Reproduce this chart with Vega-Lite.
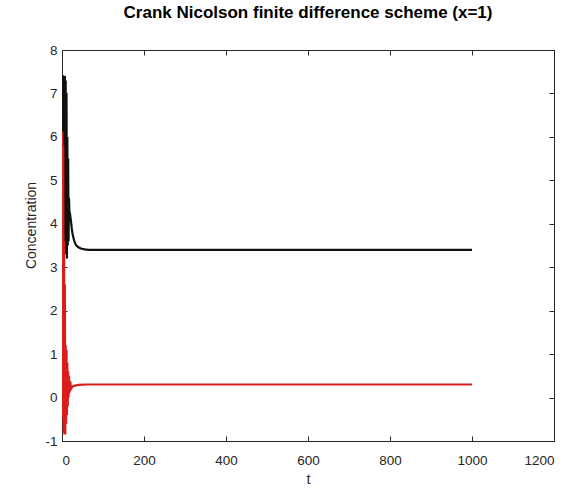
{
  "$schema": "https://vega.github.io/schema/vega-lite/v6.json",
  "autosize": "none",
  "padding": {"left": 62, "top": 50, "right": 31, "bottom": 50},
  "width": 492,
  "height": 391,
  "background": "white",
  "title": {"text": "Crank Nicolson finite difference scheme (x=1)", "font": "Liberation Sans", "fontSize": 17, "fontWeight": "bold", "color": "#000000", "offset": 8, "baseline": "alphabetic", "anchor": "middle"},
  "config": {
    "view": {"stroke": "#262626", "strokeWidth": 1},
    "axis": {"grid": false, "domainColor": "#262626", "tickColor": "#262626", "labelColor": "#262626", "labelFont": "Liberation Sans", "labelFontSize": 13.5, "titleFont": "Liberation Sans", "titleFontSize": 14.5, "titleFontWeight": "normal", "titleColor": "#262626", "tickSize": -5}
  },
  "data": {"values": [
    {"t": 0, "c": 0.5, "s": "a"}, {"t": 1, "c": 7.42, "s": "a"}, {"t": 2, "c": 3.3, "s": "a"}, {"t": 3, "c": 7.42, "s": "a"}, {"t": 4, "c": 3.3, "s": "a"}, {"t": 5, "c": 7.4, "s": "a"}, {"t": 6, "c": 3.3, "s": "a"}, {"t": 7, "c": 7.4, "s": "a"}, {"t": 8, "c": 3.4, "s": "a"}, {"t": 9, "c": 7.3, "s": "a"}, {"t": 10, "c": 3.3, "s": "a"}, {"t": 11, "c": 7.0, "s": "a"}, {"t": 12, "c": 3.2, "s": "a"}, {"t": 13, "c": 6.0, "s": "a"}, {"t": 14, "c": 3.5, "s": "a"}, {"t": 15, "c": 5.5, "s": "a"}, {"t": 16, "c": 3.6, "s": "a"}, {"t": 17, "c": 4.6, "s": "a"}, {"t": 18, "c": 4.3, "s": "a"}, {"t": 20, "c": 4.2, "s": "a"}, {"t": 22, "c": 4.05, "s": "a"}, {"t": 24, "c": 3.88, "s": "a"}, {"t": 26, "c": 3.75, "s": "a"}, {"t": 30, "c": 3.6, "s": "a"}, {"t": 34, "c": 3.51, "s": "a"}, {"t": 40, "c": 3.46, "s": "a"}, {"t": 46, "c": 3.43, "s": "a"}, {"t": 55, "c": 3.41, "s": "a"}, {"t": 66, "c": 3.4, "s": "a"}, {"t": 100, "c": 3.4, "s": "a"}, {"t": 1000, "c": 3.4, "s": "a"},
    {"t": 0, "c": 6.1, "s": "b"}, {"t": 1, "c": 6.1, "s": "b"}, {"t": 2, "c": -0.5, "s": "b"}, {"t": 3, "c": 5.8, "s": "b"}, {"t": 4, "c": -0.8, "s": "b"}, {"t": 5, "c": 3.6, "s": "b"}, {"t": 6, "c": -0.85, "s": "b"}, {"t": 7, "c": 2.6, "s": "b"}, {"t": 8, "c": -0.85, "s": "b"}, {"t": 9, "c": 1.2, "s": "b"}, {"t": 10, "c": -0.6, "s": "b"}, {"t": 11, "c": 1.1, "s": "b"}, {"t": 12, "c": -0.4, "s": "b"}, {"t": 13, "c": 0.8, "s": "b"}, {"t": 14, "c": -0.2, "s": "b"}, {"t": 15, "c": 0.6, "s": "b"}, {"t": 16, "c": 0.0, "s": "b"}, {"t": 17, "c": 0.5, "s": "b"}, {"t": 18, "c": 0.1, "s": "b"}, {"t": 20, "c": 0.38, "s": "b"}, {"t": 22, "c": 0.2, "s": "b"}, {"t": 25, "c": 0.25, "s": "b"}, {"t": 30, "c": 0.27, "s": "b"}, {"t": 40, "c": 0.29, "s": "b"}, {"t": 60, "c": 0.3, "s": "b"}, {"t": 1000, "c": 0.3, "s": "b"}
  ]},
  "layer": [
    {
      "mark": {"type": "line", "strokeWidth": 2.2, "clip": true},
      "encoding": {
        "x": {"field": "t", "type": "quantitative", "scale": {"domain": [0, 1200], "nice": false, "zero": false}, "axis": {"title": "t", "labelExpr": "'' + datum.value", "values": [0, 200, 400, 600, 800, 1000, 1200], "labelPadding": 17, "titlePadding": 6}},
        "y": {"field": "c", "type": "quantitative", "scale": {"domain": [-1, 8], "nice": false, "zero": false}, "axis": {"title": "Concentration", "titleFontSize": 14, "titleY": 175, "labelExpr": "'' + datum.value", "values": [-1, 0, 1, 2, 3, 4, 5, 6, 7, 8], "labelPadding": 10, "titlePadding": 6}},
        "color": {"field": "s", "type": "nominal", "scale": {"domain": ["a", "b"], "range": ["#111111", "#d91c1c"]}, "legend": null}
      }
    },
    {
      "mark": {"type": "line", "opacity": 0},
      "encoding": {
        "x": {"field": "t", "type": "quantitative", "axis": {"orient": "top", "labels": false, "title": null, "values": [0, 200, 400, 600, 800, 1000, 1200]}},
        "y": {"field": "c", "type": "quantitative", "axis": {"orient": "right", "labels": false, "title": null, "values": [-1, 0, 1, 2, 3, 4, 5, 6, 7, 8]}},
        "detail": {"field": "s"}
      }
    }
  ],
  "resolve": {"axis": {"x": "independent", "y": "independent"}}
}
